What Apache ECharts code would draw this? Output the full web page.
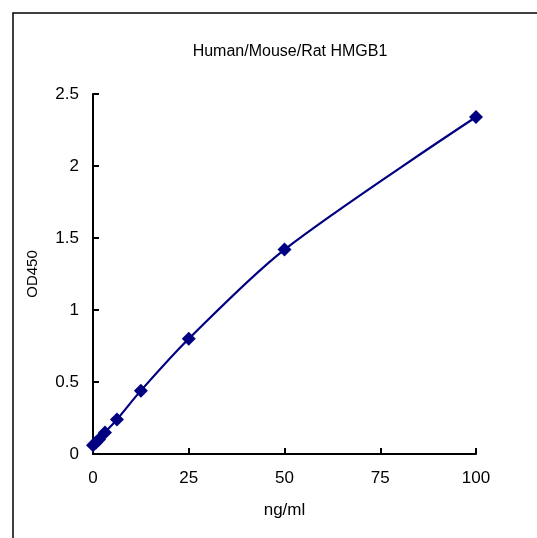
<!DOCTYPE html>
<html><head><meta charset="utf-8">
<script src="https://cdn.jsdelivr.net/npm/echarts@6/dist/echarts.min.js"></script>
<style>html,body{margin:0;padding:0;background:#fff}#c{width:537px;height:538px}</style>
</head><body><div id="c"></div>
<script>
const concentrations = [0, 0.78, 1.56, 3.125, 6.25, 12.5, 25, 50, 100];
const od450 = [0.06, 0.08, 0.10, 0.15, 0.24, 0.44, 0.80, 1.42, 2.34];
const xTicks = [0, 25, 50, 75, 100];
const yTicks = [0, 0.5, 1, 1.5, 2, 2.5];
const chartTitle = 'Human/Mouse/Rat HMGB1';
const xName = 'ng/ml';
const yName = 'OD450';

const chart = echarts.init(document.getElementById('c'), null, {renderer: 'canvas'});
const font = 'Liberation Sans, Arial, sans-serif';
chart.setOption({
  animation: false,
  backgroundColor: '#fff',
  title: {text: chartTitle, left: 285, top: 39, textAlign: 'center',
    textStyle: {fontFamily: font, fontSize: 16, fontWeight: 'normal', color: '#000'}},
  graphic: [{type: 'rect', shape: {x: 13, y: 13, width: 700, height: 700},
    style: {fill: 'none', stroke: '#000', lineWidth: 1.5}, silent: true}],
  grid: {left: 93, right: 61, top: 94, bottom: 84, containLabel: false},
  xAxis: {type: 'value', min: 0, max: 100, interval: 25,
    name: xName, nameLocation: 'middle', nameGap: 48,
    nameTextStyle: {fontFamily: font, fontSize: 17, color: '#000'},
    axisLine: {show: true, onZero: false, lineStyle: {color: '#000', width: 2}},
    axisTick: {show: true, inside: true, length: 6, lineStyle: {color: '#000', width: 2}},
    axisLabel: {fontFamily: font, fontSize: 17, color: '#000', margin: 16,
      formatter: v => xTicks.includes(v) ? String(v) : ''},
    splitLine: {show: false}},
  yAxis: {type: 'value', min: 0, max: 2.5, interval: 0.5,
    name: yName, nameLocation: 'middle', nameGap: 53, nameRotate: 90,
    nameTextStyle: {fontFamily: font, fontSize: 15, color: '#000'},
    axisLine: {show: true, onZero: false, lineStyle: {color: '#000', width: 2}},
    axisTick: {show: true, inside: true, length: 6, lineStyle: {color: '#000', width: 2}},
    axisLabel: {fontFamily: font, fontSize: 17, color: '#000', margin: 14,
      formatter: v => yTicks.includes(v) ? String(v) : ''},
    splitLine: {show: false}},
  series: [{type: 'line', data: concentrations.map((c, i) => [c, od450[i]]),
    smooth: 0.3, symbol: 'diamond', symbolSize: 14,
    lineStyle: {color: '#000080', width: 2.2},
    itemStyle: {color: '#000080'}}]
});
</script></body></html>
